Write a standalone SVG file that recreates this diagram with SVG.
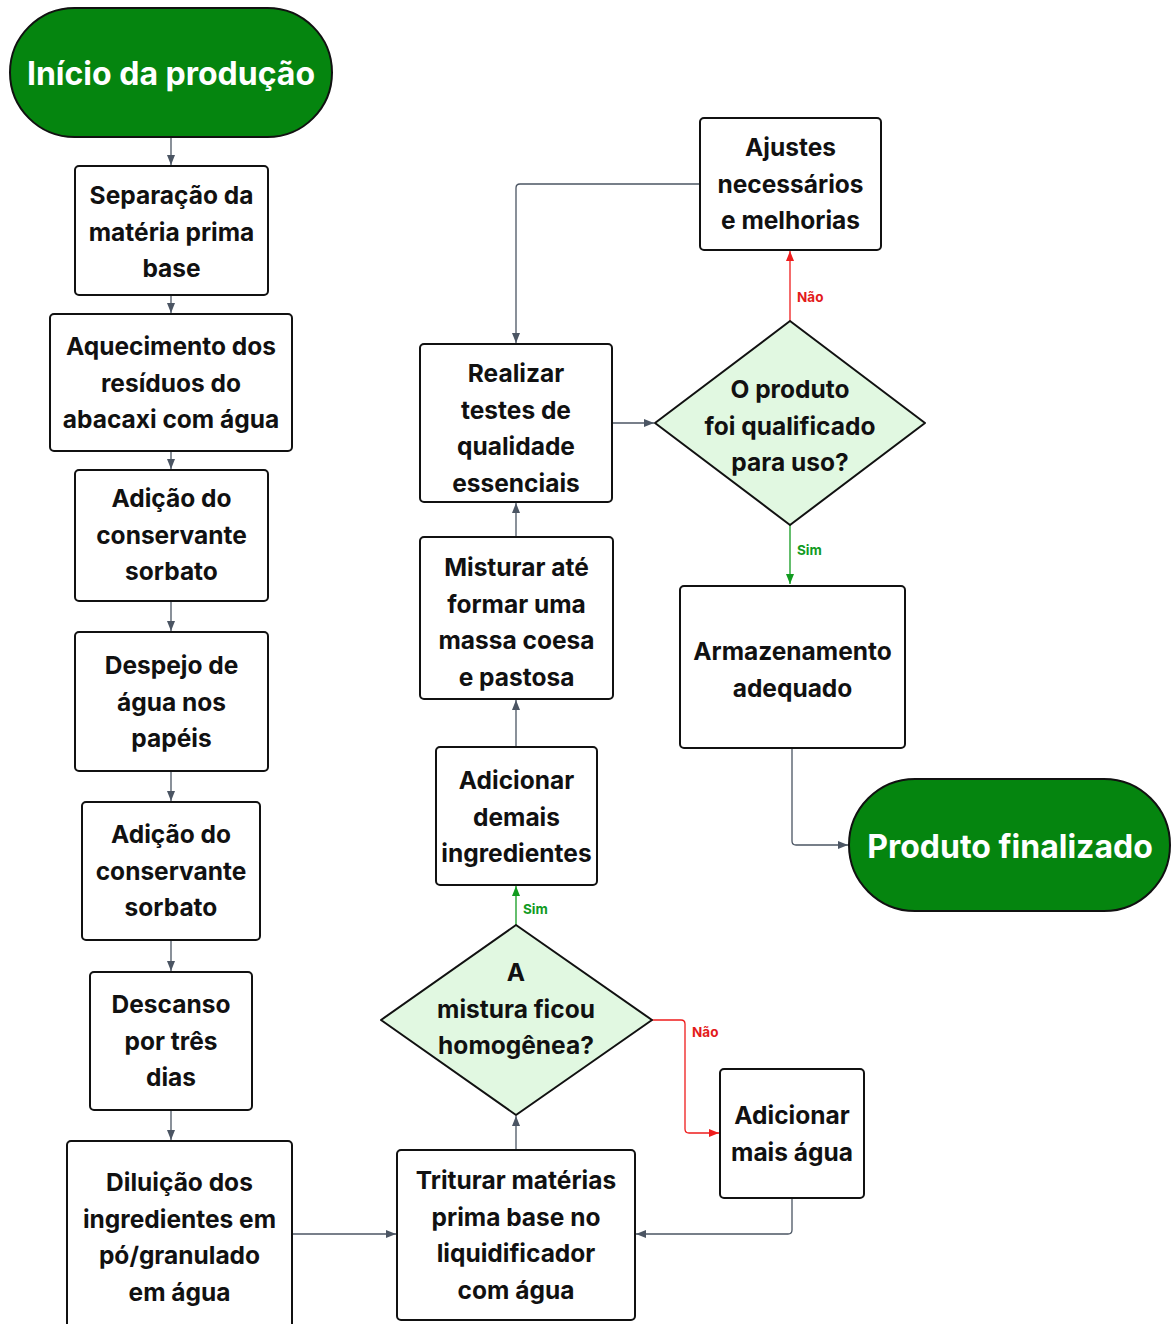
<svg xmlns="http://www.w3.org/2000/svg" width="1171" height="1324" viewBox="0 0 1171 1324">
<defs>
<style>
.box{fill:#fff;stroke:#111;stroke-width:2}
.dia{fill:#e1f8e1;stroke:#111;stroke-width:2;stroke-linejoin:round}
.term{fill:#05850f;stroke:#111;stroke-width:2}
.t{font-family:Inter,"Liberation Sans",sans-serif;font-weight:700;font-size:24.5px;fill:#111;text-anchor:middle;dominant-baseline:central}
.tt{font-family:Inter,"Liberation Sans",sans-serif;font-weight:700;font-size:32px;fill:#fff;text-anchor:middle;dominant-baseline:central}
.c{fill:none;stroke:#4b5563;stroke-width:1.3}
.cr{fill:none;stroke:#ee1c1c;stroke-width:1.3}
.cg{fill:none;stroke:#119b1f;stroke-width:1.3}
.lr{font-family:Inter,"Liberation Sans",sans-serif;font-weight:700;font-size:13.5px;fill:#e31b1b;dominant-baseline:central}
.lg{font-family:Inter,"Liberation Sans",sans-serif;font-weight:700;font-size:13.5px;fill:#119b1f;dominant-baseline:central}
</style>
<marker id="ag" markerWidth="10" markerHeight="8" refX="10" refY="4" orient="auto" markerUnits="userSpaceOnUse"><path d="M0,0 L10,4 L0,8 Z" fill="#4b5563"/></marker>
<marker id="ar" markerWidth="10" markerHeight="8" refX="10" refY="4" orient="auto" markerUnits="userSpaceOnUse"><path d="M0,0 L10,4 L0,8 Z" fill="#ee1c1c"/></marker>
<marker id="agr" markerWidth="10" markerHeight="8" refX="10" refY="4" orient="auto" markerUnits="userSpaceOnUse"><path d="M0,0 L10,4 L0,8 Z" fill="#119b1f"/></marker>
</defs>
<rect width="1171" height="1324" fill="#fff"/>

<g id="connectors">
<path class="c" d="M171,137 V165" marker-end="url(#ag)"/>
<path class="c" d="M171,295 V313" marker-end="url(#ag)"/>
<path class="c" d="M171,451 V469" marker-end="url(#ag)"/>
<path class="c" d="M171,601 V631" marker-end="url(#ag)"/>
<path class="c" d="M171,771 V801" marker-end="url(#ag)"/>
<path class="c" d="M171,940 V971" marker-end="url(#ag)"/>
<path class="c" d="M171,1110 V1140" marker-end="url(#ag)"/>
<path class="c" d="M292,1234 H396" marker-end="url(#ag)"/>
<path class="c" d="M516,1150 V1116" marker-end="url(#ag)"/>
<path class="cr" d="M652,1020 H681 Q685,1020 685,1024 V1129 Q685,1133 689,1133 H719" marker-end="url(#ar)"/>
<text class="lr" x="692" y="1032">Não</text>
<path class="c" d="M792,1198 V1230 Q792,1234 788,1234 H636" marker-end="url(#ag)"/>
<path class="cg" d="M516,925 V886" marker-end="url(#agr)"/>
<text class="lg" x="523" y="909">Sim</text>
<path class="c" d="M516,747 V700" marker-end="url(#ag)"/>
<path class="c" d="M516,537 V503" marker-end="url(#ag)"/>
<path class="c" d="M612,423 H654" marker-end="url(#ag)"/>
<path class="cr" d="M790,321 V251" marker-end="url(#ar)"/>
<text class="lr" x="797" y="297">Não</text>
<path class="c" d="M700,184 H520 Q516,184 516,188 V343" marker-end="url(#ag)"/>
<path class="cg" d="M790,525 V584" marker-end="url(#agr)"/>
<text class="lg" x="797" y="550">Sim</text>
<path class="c" d="M792,748 V841 Q792,845 796,845 H848" marker-end="url(#ag)"/>
</g>

<g id="start"><rect class="term" x="10" y="8" width="322" height="129" rx="64.5"/><text class="tt" x="171" y="73">Início da produção</text></g>

<g id="n1"><rect class="box" x="75" y="166" width="193" height="129" rx="4"/>
<text class="t" x="171.5"><tspan x="171.5" y="195">Separação da</tspan><tspan x="171.5" y="231.5">matéria prima</tspan><tspan x="171.5" y="268">base</tspan></text></g>

<g id="n2"><rect class="box" x="50" y="314" width="242" height="137" rx="4"/>
<text class="t"><tspan x="171" y="346">Aquecimento dos</tspan><tspan x="171" y="382.5">resíduos do</tspan><tspan x="171" y="419">abacaxi com água</tspan></text></g>

<g id="n3"><rect class="box" x="75" y="470" width="193" height="131" rx="4"/>
<text class="t"><tspan x="171.5" y="498">Adição do</tspan><tspan x="171.5" y="534.5">conservante</tspan><tspan x="171.5" y="571">sorbato</tspan></text></g>

<g id="n4"><rect class="box" x="75" y="632" width="193" height="139" rx="4"/>
<text class="t"><tspan x="171.5" y="665">Despejo de</tspan><tspan x="171.5" y="701.5">água nos</tspan><tspan x="171.5" y="738">papéis</tspan></text></g>

<g id="n5"><rect class="box" x="82" y="802" width="178" height="138" rx="4"/>
<text class="t"><tspan x="171" y="834">Adição do</tspan><tspan x="171" y="870.5">conservante</tspan><tspan x="171" y="907">sorbato</tspan></text></g>

<g id="n6"><rect class="box" x="90" y="972" width="162" height="138" rx="4"/>
<text class="t"><tspan x="171" y="1004">Descanso</tspan><tspan x="171" y="1040.5">por três</tspan><tspan x="171" y="1077">dias</tspan></text></g>

<g id="n7"><rect class="box" x="67" y="1141" width="225" height="195" rx="4"/>
<text class="t"><tspan x="179.5" y="1182">Diluição dos</tspan><tspan x="179.5" y="1218.5">ingredientes em</tspan><tspan x="179.5" y="1255">pó/granulado</tspan><tspan x="179.5" y="1291.5">em água</tspan></text></g>

<g id="n8"><rect class="box" x="397" y="1150" width="238" height="170" rx="4"/>
<text class="t"><tspan x="516" y="1180">Triturar matérias</tspan><tspan x="516" y="1216.5">prima base no</tspan><tspan x="516" y="1253">liquidificador</tspan><tspan x="516" y="1289.5">com água</tspan></text></g>

<g id="d1"><path class="dia" d="M516,925 L652,1020 L516,1115 L381,1020 Z"/>
<text class="t"><tspan x="516" y="972">A</tspan><tspan x="516" y="1008.5">mistura ficou</tspan><tspan x="516" y="1045">homogênea?</tspan></text></g>

<g id="n9"><rect class="box" x="720" y="1069" width="144" height="129" rx="4"/>
<text class="t"><tspan x="792" y="1115">Adicionar</tspan><tspan x="792" y="1151.5">mais água</tspan></text></g>

<g id="n10"><rect class="box" x="436" y="747" width="161" height="138" rx="4"/>
<text class="t"><tspan x="516.5" y="780">Adicionar</tspan><tspan x="516.5" y="816.5">demais</tspan><tspan x="516.5" y="853">ingredientes</tspan></text></g>

<g id="n11"><rect class="box" x="420" y="537" width="193" height="162" rx="4"/>
<text class="t"><tspan x="516.5" y="567">Misturar até</tspan><tspan x="516.5" y="603.5">formar uma</tspan><tspan x="516.5" y="640">massa coesa</tspan><tspan x="516.5" y="676.5">e pastosa</tspan></text></g>

<g id="n12"><rect class="box" x="420" y="344" width="192" height="158" rx="4"/>
<text class="t"><tspan x="516" y="373">Realizar</tspan><tspan x="516" y="409.5">testes de</tspan><tspan x="516" y="446">qualidade</tspan><tspan x="516" y="482.5">essenciais</tspan></text></g>

<g id="d2"><path class="dia" d="M790,321 L925,423 L790,525 L655,423 Z"/>
<text class="t"><tspan x="790" y="389">O produto</tspan><tspan x="790" y="425.5">foi qualificado</tspan><tspan x="790" y="462">para uso?</tspan></text></g>

<g id="n13"><rect class="box" x="700" y="118" width="181" height="132" rx="4"/>
<text class="t"><tspan x="790.5" y="147">Ajustes</tspan><tspan x="790.5" y="183.5">necessários</tspan><tspan x="790.5" y="220">e melhorias</tspan></text></g>

<g id="n14"><rect class="box" x="680" y="586" width="225" height="162" rx="4"/>
<text class="t"><tspan x="792.5" y="651">Armazenamento</tspan><tspan x="792.5" y="687.5">adequado</tspan></text></g>

<g id="end"><rect class="term" x="849" y="779" width="321" height="132" rx="66"/><text class="tt" x="1010" y="846">Produto finalizado</text></g>
</svg>
